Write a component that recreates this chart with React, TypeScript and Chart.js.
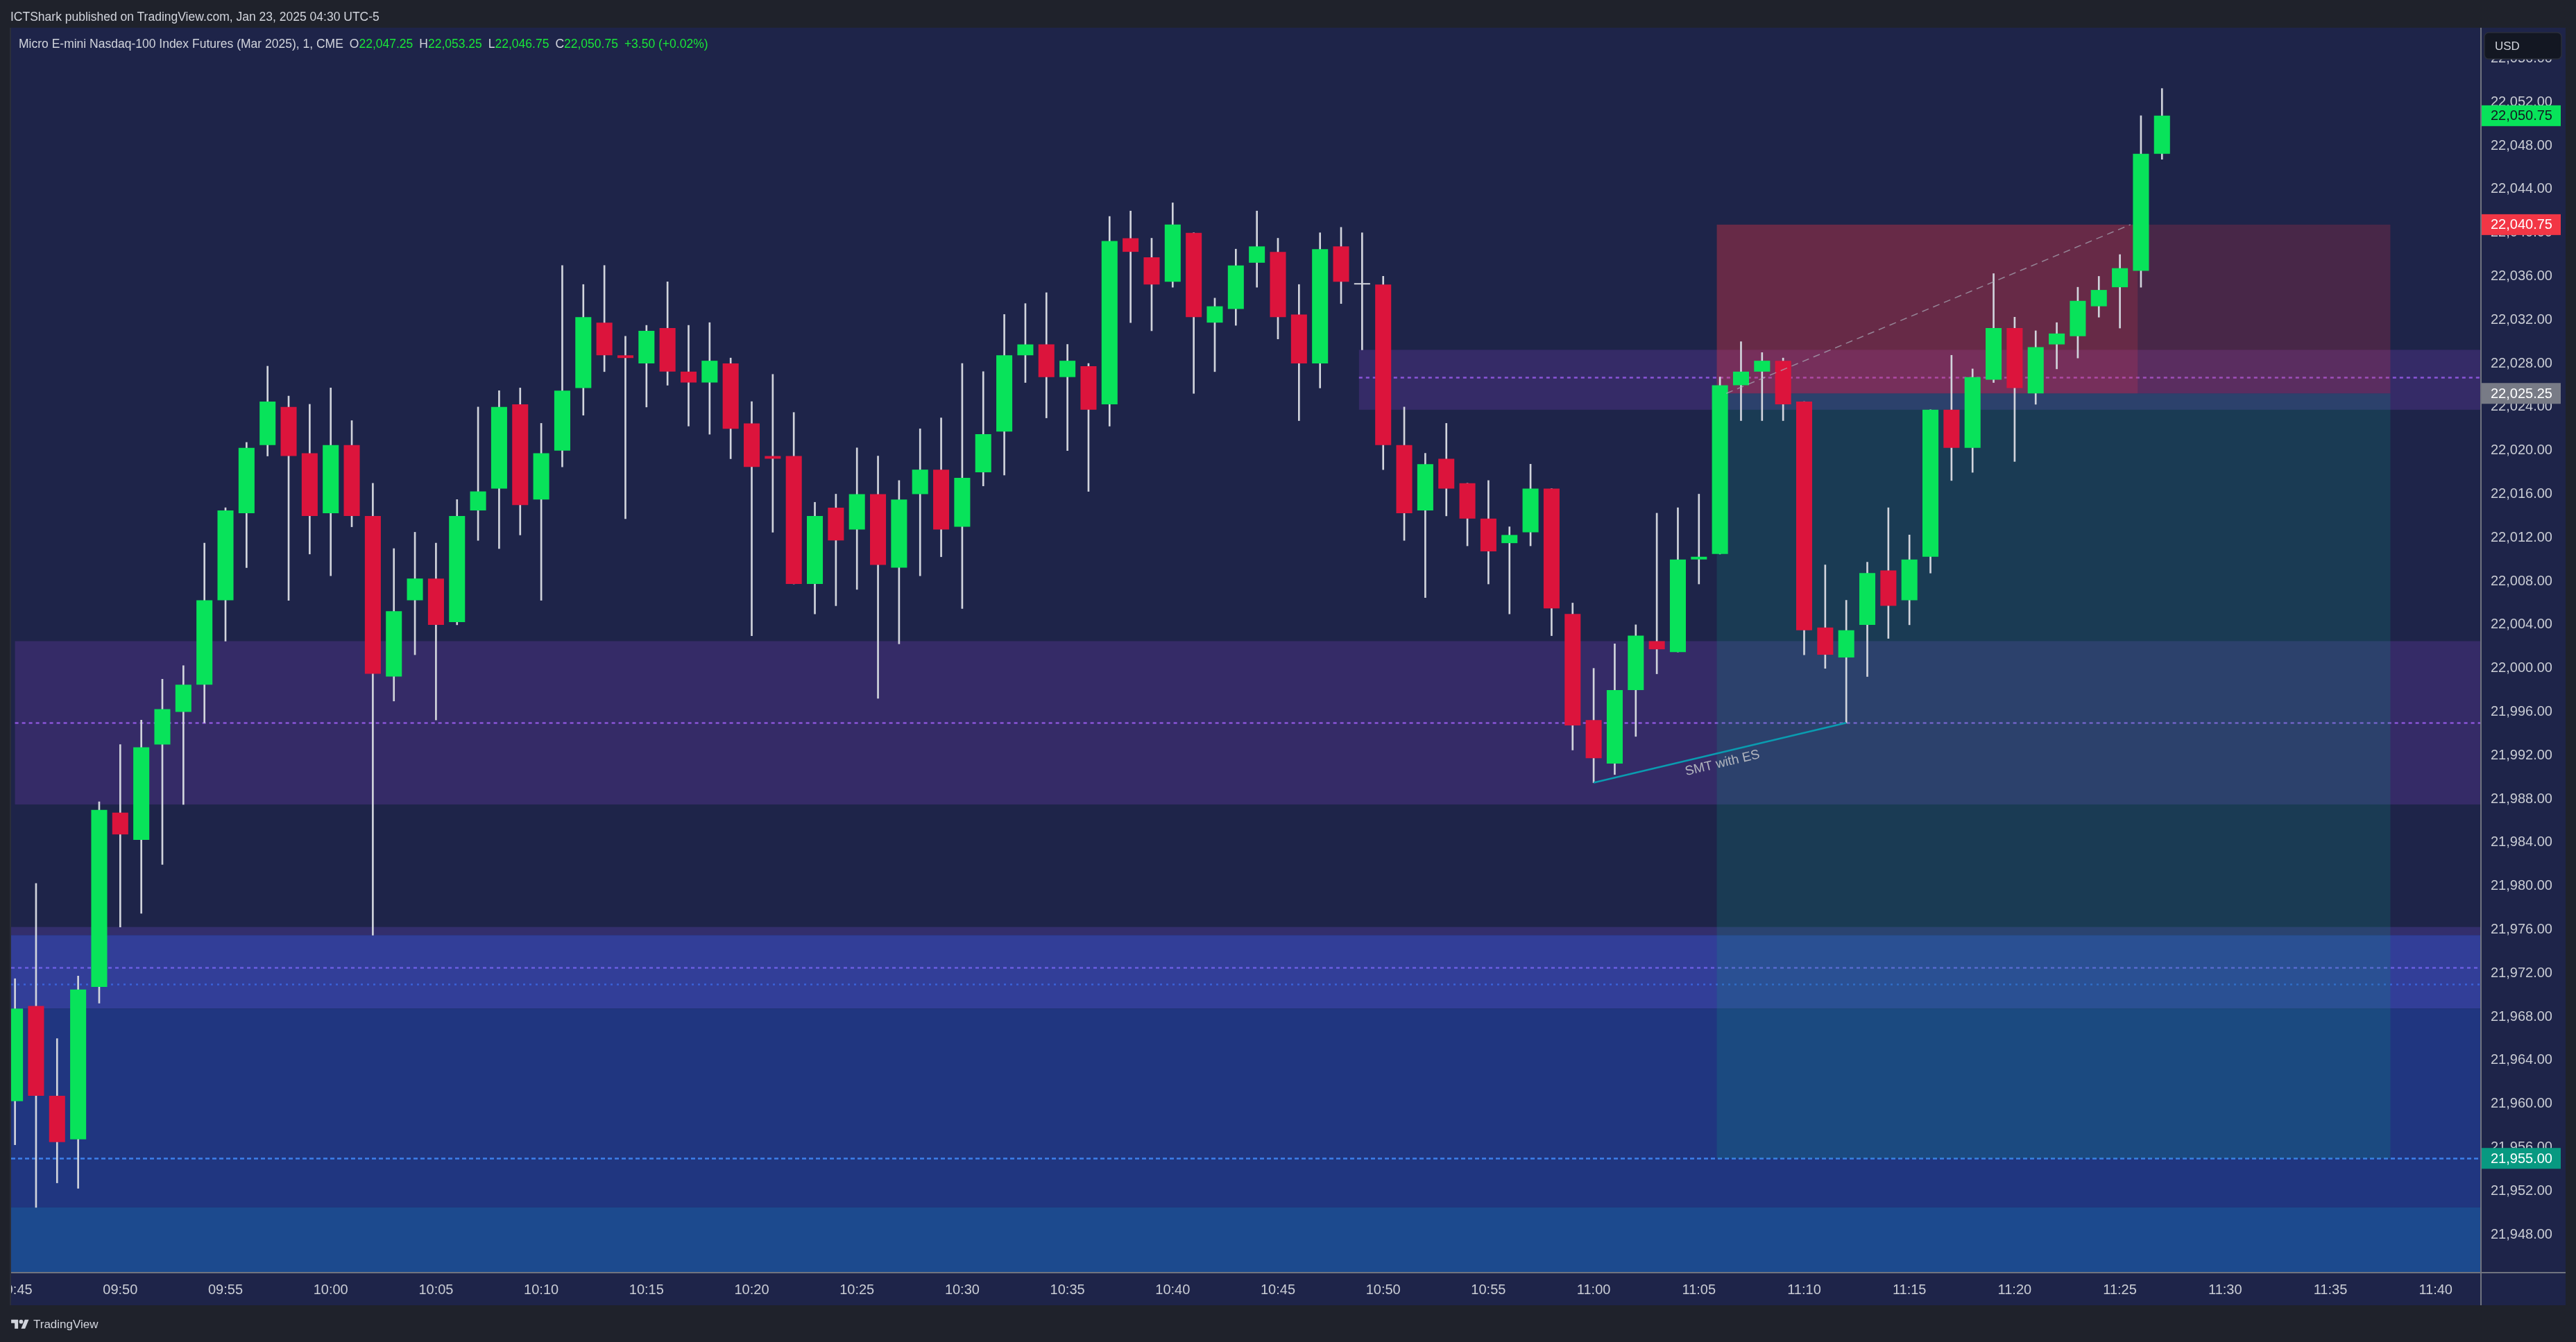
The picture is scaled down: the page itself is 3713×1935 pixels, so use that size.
import React, { useEffect, useRef } from "react";
import { Chart, registerables } from "chart.js";

Chart.register(...registerables);

// ---------- data ----------
const timeTickValues = [0, 5, 10, 15, 20, 25, 30, 35, 40, 45, 50, 55, 60, 65, 70, 75, 80, 85, 90, 95, 100, 105, 110, 115];
const timeTickLabels = ["09:45", "09:50", "09:55", "10:00", "10:05", "10:10", "10:15", "10:20", "10:25", "10:30", "10:35", "10:40", "10:45", "10:50", "10:55", "11:00", "11:05", "11:10", "11:15", "11:20", "11:25", "11:30", "11:35", "11:40"];
const priceTickValues = [21948, 21952, 21956, 21960, 21964, 21968, 21972, 21976, 21980, 21984, 21988, 21992, 21996, 22000, 22004, 22008, 22012, 22016, 22020, 22024, 22028, 22032, 22036, 22040, 22044, 22048, 22052, 22056];

// one-minute candles from 09:45 (index = minutes after 09:45)
const opens = [
  21960.25, 21969.0, 21960.75, 21956.75, 21970.75, 21986.75, 21984.25, 21993.0, 21996.0, 21998.5,
  22006.25, 22014.25, 22020.5, 22024.0, 22019.75, 22014.25, 22020.5, 22014.0, 21999.25, 22006.25,
  22008.25, 22004.25, 22014.5, 22016.5, 22024.25, 22015.5, 22020.0, 22025.75, 22031.75, 22028.75,
  22028.0, 22031.25, 22027.25, 22026.25, 22028.0, 22022.5, 22019.5, 22019.5, 22007.75, 22014.75,
  22012.75, 22016.0, 22009.25, 22016.0, 22018.25, 22013.0, 22018.0, 22021.75, 22028.75, 22029.75,
  22026.75, 22027.75, 22024.25, 22039.5, 22037.75, 22035.5, 22040.0, 22031.75, 22033.0, 22037.25,
  22038.25, 22032.5, 22028.0, 22038.75, 22035.25, 22035.25, 22020.5, 22014.5, 22019.25, 22017.0,
  22013.75, 22011.5, 22012.5, 22016.5, 22005.0, 21995.25, 21991.25, 21998.0, 22002.5, 22001.5,
  22010.0, 22010.5, 22026.0, 22027.25, 22028.25, 22024.5, 22003.75, 22001.0, 22004.0, 22009.0,
  22006.25, 22010.25, 22023.75, 22020.25, 22026.5, 22031.25, 22025.25, 22029.75, 22030.5, 22033.25,
  22035.0, 22036.5, 22047.25,
];
const highs = [
  21971.5, 21980.25, 21966.0, 21971.75, 21987.75, 21993.0, 21995.25, 21999.0, 22000.25, 22011.5,
  22014.75, 22020.75, 22027.75, 22025.0, 22024.25, 22025.75, 22022.75, 22017.0, 22011.0, 22012.5,
  22011.5, 22015.5, 22024.0, 22025.5, 22025.75, 22022.5, 22037.0, 22035.25, 22037.0, 22030.5,
  22031.5, 22035.5, 22031.5, 22031.75, 22028.5, 22024.5, 22027.0, 22023.5, 22015.25, 22016.0,
  22020.25, 22019.5, 22017.25, 22022.0, 22023.0, 22028.0, 22027.25, 22032.5, 22033.5, 22034.5,
  22029.75, 22028.0, 22041.5, 22042.0, 22039.5, 22042.75, 22040.0, 22034.0, 22038.5, 22042.0,
  22039.5, 22035.25, 22040.0, 22040.5, 22040.0, 22036.0, 22024.0, 22019.75, 22022.5, 22017.0,
  22017.25, 22013.0, 22018.75, 22016.5, 22006.0, 22000.0, 22002.25, 22004.0, 22014.25, 22014.75,
  22016.0, 22026.75, 22030.0, 22029.0, 22028.5, 22024.5, 22009.5, 22006.25, 22009.75, 22014.75,
  22012.25, 22023.75, 22028.75, 22027.5, 22036.25, 22032.25, 22031.0, 22031.75, 22035.0, 22036.0,
  22038.0, 22050.75, 22053.25,
];
const lows = [
  21956.25, 21950.5, 21952.75, 21952.25, 21969.25, 21976.25, 21977.5, 21982.0, 21987.5, 21995.0,
  22002.5, 22009.25, 22019.5, 22006.25, 22010.5, 22008.5, 22013.0, 21975.5, 21997.0, 22001.25,
  21995.25, 22004.0, 22011.75, 22011.0, 22012.25, 22006.25, 22018.5, 22023.25, 22027.25, 22013.75,
  22024.0, 22026.0, 22022.25, 22021.5, 22019.25, 22003.0, 22012.5, 22007.75, 22005.0, 22005.75,
  22007.25, 21997.25, 22002.25, 22008.5, 22010.25, 22005.5, 22016.75, 22017.75, 22026.25, 22023.0,
  22020.0, 22016.25, 22022.25, 22031.75, 22031.0, 22035.0, 22025.25, 22027.25, 22031.5, 22035.0,
  22030.25, 22022.75, 22025.75, 22033.5, 22029.25, 22018.25, 22011.75, 22006.5, 22014.0, 22011.25,
  22007.75, 22005.0, 22011.25, 22003.0, 21992.5, 21989.5, 21990.25, 21993.75, 21999.5, 22001.5,
  22007.75, 22010.5, 22022.75, 22022.75, 22022.75, 22001.25, 22000.0, 21995.0, 21999.25, 22002.75,
  22004.0, 22008.75, 22017.25, 22018.0, 22026.25, 22019.0, 22024.25, 22027.5, 22028.5, 22032.25,
  22031.25, 22035.0, 22046.75,
];
const closes = [
  21968.75, 21960.75, 21956.5, 21970.5, 21987.0, 21984.75, 21992.75, 21996.25, 21998.5, 22006.25,
  22014.5, 22020.25, 22024.5, 22019.5, 22014.0, 22020.5, 22014.0, 21999.5, 22005.25, 22008.25,
  22004.0, 22014.0, 22016.25, 22024.0, 22015.0, 22019.75, 22025.5, 22032.25, 22028.75, 22028.5,
  22031.0, 22027.25, 22026.25, 22028.25, 22022.0, 22018.5, 22019.25, 22007.75, 22014.0, 22011.75,
  22016.0, 22009.5, 22015.5, 22018.25, 22012.75, 22017.5, 22021.5, 22028.75, 22029.75, 22026.75,
  22028.25, 22023.75, 22039.25, 22038.25, 22035.25, 22040.75, 22032.25, 22033.25, 22037.0, 22038.75,
  22032.25, 22028.0, 22038.5, 22035.5, 22035.25, 22020.5, 22014.25, 22018.75, 22016.5, 22013.75,
  22010.75, 22012.25, 22016.5, 22005.5, 21994.75, 21991.75, 21998.0, 22003.0, 22001.75, 22010.0,
  22010.25, 22026.0, 22027.25, 22028.25, 22024.25, 22003.5, 22001.25, 22003.5, 22008.75, 22005.75,
  22010.0, 22023.75, 22020.25, 22026.75, 22031.25, 22025.75, 22029.5, 22030.75, 22033.75, 22034.75,
  22036.75, 22047.25, 22050.75,
];

// zones (price bands) drawn on the chart
const bandTops = [22029.25, 22002.5, 21976.25, 21975.5, 21968.75, 21950.5];
const bandBottoms = [22023.75, 21987.5, 21975.5, 21968.75, 21950.5, 21944.57];
const bandStarts = [63.85, 0, -0.185, -0.185, -0.185, -0.185];

// dashed level lines
const levelPrices = [22026.75, 21995.0, 21972.5, 21971.0, 21955.0];
const levelStarts = [63.85, 0, -0.185, -0.185, -0.185];

// short position tool
const positionTimes = [80.85, 100.85, 112.85]; // start, fill end, end
const positionPrices = [22040.75, 22025.25, 21955.0]; // stop, entry, target
const pathPoints = [[81.3, 22025.25], [100.5, 22040.75]];

// SMT trend line
const smtPoints = [[75, 21989.5], [87, 21995.0]];
const smtText = "SMT with ES";

// price scale labels
const axisLabelValues = [22050.75, 22040.75, 22025.25, 21955.0];

// ---------- styles ----------
const W = 3713;
const H = 1935;
const FRAME_BG = "#1f222b";
const PANE_BG = "#1e2449";
const PANE = { left: 16, top: 40, right: 3698, bottom: 1882 };
const X_MIN = -0.185;
const X_MAX = 117.12;
const Y_MIN = 21944.57;
const Y_MAX = 22058.83;
const UP = "#08e35a";
const DOWN = "#dc143c";
const WICK = "#d1d4dc";
const TEXT = "#c9ccd4";
const FONT = "'Liberation Sans', Arial, sans-serif";
const bandColors = ["#352b67", "#352b67", "#332e6c", "#323e98", "#203680", "#1c4a8e"];
const levelColors = ["#8a55d8", "#8a55d8", "#6a5ee0", "#3a62d8", "#3d80ea"];
const levelDashes = [[5, 5], [5, 5], [5, 5], [3, 6], [6, 4]];
const axisLabelBg = [UP, "#f23645", "#787b86", "#089981"];
const axisLabelFg = ["#131722", "#ffffff", "#ffffff", "#ffffff"];

const fmt = (v: number) =>
  v.toLocaleString("en-US", { minimumFractionDigits: 2, maximumFractionDigits: 2 });

const candleColor = (i: number) =>
  closes[i] > opens[i] ? UP : closes[i] < opens[i] ? DOWN : WICK;

const drawingsPlugin = {
  id: "drawings",
  beforeDraw(chart: any) {
    const { ctx, chartArea: a, scales } = chart;
    const x = scales.x;
    const y = scales.y;
    ctx.save();
    ctx.fillStyle = FRAME_BG;
    ctx.fillRect(0, 0, W, H);
    ctx.fillStyle = PANE_BG;
    ctx.fillRect(PANE.left, PANE.top, PANE.right - PANE.left, PANE.bottom - PANE.top);

    ctx.beginPath();
    ctx.rect(a.left, a.top, a.right - a.left, a.bottom - a.top);
    ctx.clip();

    // bands
    bandTops.forEach((top, i) => {
      const x0 = x.getPixelForValue(bandStarts[i]);
      const x1 = x.getPixelForValue(X_MAX);
      const y0 = y.getPixelForValue(top);
      const y1 = y.getPixelForValue(bandBottoms[i]);
      ctx.fillStyle = bandColors[i];
      ctx.fillRect(x0, y0, x1 - x0, y1 - y0);
    });

    // dashed levels
    levelPrices.forEach((p, i) => {
      const yy = Math.round(y.getPixelForValue(p)) + 0.5;
      ctx.strokeStyle = levelColors[i];
      ctx.lineWidth = 2.5;
      ctx.setLineDash(levelDashes[i]);
      ctx.beginPath();
      ctx.moveTo(x.getPixelForValue(levelStarts[i]), yy);
      ctx.lineTo(x.getPixelForValue(X_MAX), yy);
      ctx.stroke();
    });
    ctx.setLineDash([]);

    // position tool
    const px0 = x.getPixelForValue(positionTimes[0]);
    const pxf = x.getPixelForValue(positionTimes[1]);
    const px1 = x.getPixelForValue(positionTimes[2]);
    const yStop = y.getPixelForValue(positionPrices[0]);
    const yEntry = y.getPixelForValue(positionPrices[1]);
    const yTarget = y.getPixelForValue(positionPrices[2]);
    ctx.fillStyle = "rgba(242,54,69,0.35)";
    ctx.fillRect(px0, yStop, pxf - px0, yEntry - yStop);
    ctx.fillStyle = "rgba(242,54,69,0.2)";
    ctx.fillRect(pxf, yStop, px1 - pxf, yEntry - yStop);
    ctx.fillStyle = "rgba(8,153,129,0.2)";
    ctx.fillRect(px0, yEntry, px1 - px0, yTarget - yEntry);
    ctx.restore();
  },
  afterDatasetsDraw(chart: any) {
    const { ctx, chartArea: a, scales } = chart;
    const x = scales.x;
    const y = scales.y;
    ctx.save();
    ctx.beginPath();
    ctx.rect(a.left, a.top, a.right - a.left, a.bottom - a.top);
    ctx.clip();

    // trade path
    ctx.strokeStyle = "rgba(170,172,185,0.7)";
    ctx.lineWidth = 1.5;
    ctx.setLineDash([10, 7]);
    ctx.beginPath();
    ctx.moveTo(x.getPixelForValue(pathPoints[0][0]), y.getPixelForValue(pathPoints[0][1]));
    ctx.lineTo(x.getPixelForValue(pathPoints[1][0]), y.getPixelForValue(pathPoints[1][1]));
    ctx.stroke();
    ctx.setLineDash([]);

    // SMT line
    const sx0 = x.getPixelForValue(smtPoints[0][0]);
    const sy0 = y.getPixelForValue(smtPoints[0][1]);
    const sx1 = x.getPixelForValue(smtPoints[1][0]);
    const sy1 = y.getPixelForValue(smtPoints[1][1]);
    ctx.strokeStyle = "#0a9cb0";
    ctx.lineWidth = 2.5;
    ctx.beginPath();
    ctx.moveTo(sx0, sy0);
    ctx.lineTo(sx1, sy1);
    ctx.stroke();
    const ang = Math.atan2(sy1 - sy0, sx1 - sx0);
    ctx.translate((sx0 + sx1) / 2, (sy0 + sy1) / 2);
    ctx.rotate(ang);
    ctx.fillStyle = "#b2b5be";
    ctx.font = `19px ${FONT}`;
    ctx.textAlign = "center";
    ctx.textBaseline = "top";
    ctx.fillText(smtText, 0, 6);
    ctx.restore();
  },
  afterDraw(chart: any) {
    const { ctx, chartArea: a, scales } = chart;
    const y = scales.y;
    ctx.save();
    // axis lines
    ctx.strokeStyle = "#70747f";
    ctx.lineWidth = 2;
    ctx.beginPath();
    ctx.moveTo(a.right + 1, PANE.top);
    ctx.lineTo(a.right + 1, PANE.bottom);
    ctx.moveTo(PANE.left, a.bottom + 1);
    ctx.lineTo(PANE.right, a.bottom + 1);
    ctx.stroke();

    // price labels
    ctx.font = `20px ${FONT}`;
    ctx.textBaseline = "middle";
    ctx.textAlign = "left";
    axisLabelValues.forEach((v, i) => {
      const yy = y.getPixelForValue(v);
      ctx.fillStyle = axisLabelBg[i];
      ctx.fillRect(a.right + 2, yy - 15, 114, 30);
      ctx.fillStyle = axisLabelFg[i];
      ctx.fillText(fmt(v), a.right + 15, yy + 1);
    });

    // currency box
    ctx.fillStyle = "#131722";
    ctx.strokeStyle = "#2a2e39";
    ctx.lineWidth = 1.5;
    ctx.beginPath();
    (ctx as any).roundRect(a.right + 6, 47, 111, 38, 6);
    ctx.fill();
    ctx.stroke();
    ctx.fillStyle = "#d1d4dc";
    ctx.font = `17px ${FONT}`;
    ctx.fillText("USD", a.right + 21, 67);

    // left frame strip clips the first time label
    ctx.fillStyle = FRAME_BG;
    ctx.fillRect(0, PANE.top, PANE.left - 2, PANE.bottom - PANE.top + 2);
    ctx.fillStyle = "#2a2e39";
    ctx.fillRect(PANE.left - 2, PANE.top, 2, PANE.bottom - PANE.top);
    ctx.restore();
  },
};

export default function App() {
  const ref = useRef<HTMLCanvasElement | null>(null);

  useEffect(() => {
    document.body.style.margin = "0";
    document.body.style.overflow = "hidden";
    document.body.style.background = FRAME_BG;
    if (!ref.current) return;

    const idx = opens.map((_, i) => i);
    const chart = new Chart(ref.current, {
      type: "bar",
      data: {
        datasets: [
          {
            label: "body",
            data: idx.map((i) => ({ x: i, y: [opens[i], closes[i]] })) as any,
            backgroundColor: idx.map(candleColor),
            borderWidth: 0,
            categoryPercentage: 0.8,
            barPercentage: 0.95,
            minBarLength: 2,
            grouped: false,
            order: 1,
          } as any,
          {
            label: "wick",
            data: idx.map((i) => ({ x: i, y: [lows[i], highs[i]] })) as any,
            backgroundColor: WICK,
            borderWidth: 0,
            barThickness: 2,
            grouped: false,
            order: 2,
          } as any,
        ],
      },
      options: {
        responsive: false,
        animation: false,
        devicePixelRatio: 1,
        layout: { padding: { left: 16, top: 40, right: 15, bottom: 53 } },
        plugins: { legend: { display: false }, tooltip: { enabled: false }, title: { display: false } },
        scales: {
          x: {
            type: "linear",
            offset: false,
            min: X_MIN,
            max: X_MAX,
            grid: { display: false, drawTicks: false, offset: false },
            border: { display: false },
            ticks: {
              color: TEXT,
              font: { family: FONT, size: 20 },
              padding: 14,
              autoSkip: false,
              maxRotation: 0,
              callback: (v: any) => {
                const k = timeTickValues.indexOf(Number(v));
                return k >= 0 ? timeTickLabels[k] : "";
              },
            },
            afterBuildTicks: (axis: any) => {
              axis.ticks = timeTickValues.map((v) => ({ value: v }));
            },
            afterFit: (axis: any) => {
              axis.height = 48;
              axis.paddingLeft = 0;
              axis.paddingRight = 0;
            },
          } as any,
          y: {
            type: "linear",
            position: "right",
            min: Y_MIN,
            max: Y_MAX,
            grid: { display: false, drawTicks: false },
            border: { display: false },
            ticks: {
              color: TEXT,
              font: { family: FONT, size: 20 },
              padding: 15,
              autoSkip: false,
              callback: (v: any) => fmt(Number(v)),
            },
            afterBuildTicks: (axis: any) => {
              axis.ticks = priceTickValues.map((v) => ({ value: v }));
            },
            afterFit: (axis: any) => {
              axis.width = 123;
              axis.paddingTop = 0;
              axis.paddingBottom = 0;
            },
          } as any,
        },
      },
      plugins: [drawingsPlugin as any],
    });
    return () => chart.destroy();
  }, []);

  const green = "#19e639";
  const legendFont = `17.5px ${FONT}`;
  return (
    <div style={{ position: "relative", width: W, height: H, overflow: "hidden", background: FRAME_BG }}>
      <canvas ref={ref} width={W} height={H} style={{ display: "block", width: W, height: H }} />
      <div
        style={{
          position: "absolute",
          left: 15,
          top: 14,
          font: legendFont,
          color: "#d1d4dc",
          whiteSpace: "nowrap",
          lineHeight: "20px",
        }}
      >
        ICTShark published on TradingView.com, Jan 23, 2025 04:30 UTC-5
      </div>
      <div
        style={{
          position: "absolute",
          left: 27,
          top: 53,
          font: legendFont,
          color: "#d1d4dc",
          whiteSpace: "nowrap",
          lineHeight: "20px",
        }}
      >
        <span>Micro E-mini Nasdaq-100 Index Futures (Mar 2025), 1, CME</span>
        <span style={{ marginLeft: 9 }}>O</span>
        <span style={{ color: green }}>22,047.25</span>
        <span style={{ marginLeft: 9 }}>H</span>
        <span style={{ color: green }}>22,053.25</span>
        <span style={{ marginLeft: 9 }}>L</span>
        <span style={{ color: green }}>22,046.75</span>
        <span style={{ marginLeft: 9 }}>C</span>
        <span style={{ color: green }}>22,050.75</span>
        <span style={{ marginLeft: 9, color: green }}>+3.50 (+0.02%)</span>
      </div>
      <div
        style={{
          position: "absolute",
          left: 15,
          top: 1900,
          display: "flex",
          alignItems: "center",
          gap: 5,
          color: "#d1d4dc",
          font: `17px ${FONT}`,
          whiteSpace: "nowrap",
        }}
      >
        <svg width="28" height="20" viewBox="0 0 36 28">
          <path d="M14 22H7V11H0V4h14v18z" fill="#d1d4dc" />
          <circle cx="20" cy="8" r="4" fill="#d1d4dc" />
          <path d="M28 22h-8l7.5-18h8L28 22z" fill="#d1d4dc" />
        </svg>
        <span>TradingView</span>
      </div>
    </div>
  );
}
